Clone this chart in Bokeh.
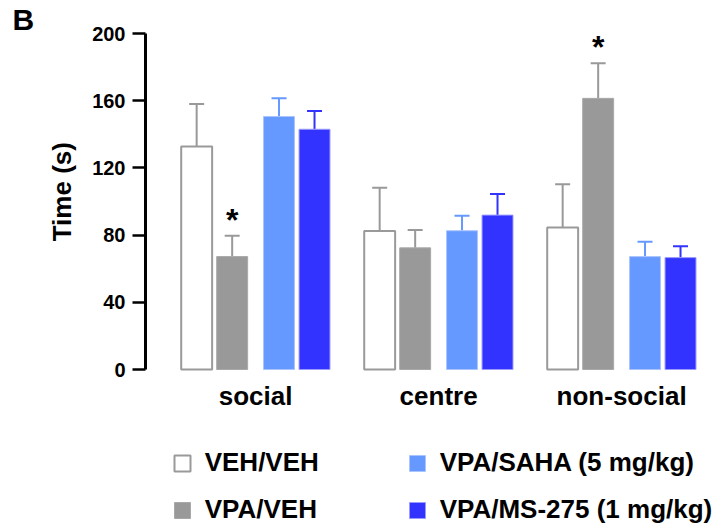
from bokeh.plotting import figure
from bokeh.models import (Range1d, FixedTicker, Legend, LegendItem, Whisker,
                          TeeHead, ColumnDataSource)
from bokeh.embed import file_html
from bokeh.resources import INLINE
from bokeh.core.properties import value

# ---------------- data ----------------
groups = ["social", "centre", "non-social"]
series = ["VEH/VEH", "VPA/VEH", "VPA/SAHA (5 mg/kg)", "VPA/MS-275 (1 mg/kg)"]

veh_veh = [132.7, 82.4, 84.5]
veh_veh_sem = [25.3, 25.8, 25.7]
vpa_veh = [67.2, 72.4, 161.4]
vpa_veh_sem = [12.4, 10.6, 20.9]
vpa_saha = [150.6, 82.6, 67.2]
vpa_saha_sem = [10.8, 8.9, 8.8]
vpa_ms275 = [143.0, 91.9, 66.6]
vpa_ms275_sem = [10.8, 12.6, 6.8]

vpa_veh_sig = ["*", "", "*"]
y_ticks = [0, 40, 80, 120, 160, 200]

# ---------------- style ----------------
FONT = "Liberation Sans"
fills = ["#ffffff", "#999999", "#6699ff", "#3333ff"]
edges = ["#9a9a9a", "#a8a8a8", "#a9c4ff", "#9a9aff"]
edge_w = [2, 1, 1, 1]
err_colors = ["#999999", "#999999", "#6699ff", "#3333ff"]
offsets = [-0.322, -0.128, 0.128, 0.322]
bar_w = 0.169
cat_label_y = -16.0   # baseline of category labels (data units, below the axis)
# the y-axis label is centred on the whole (tall) frame; leading no-break
# spaces lift the visible words to the middle of the 0-200 scale
label_pad = "\u00a0" * 25

p = figure(width=724, height=530, x_range=Range1d(-0.6016, 2.5186),
           y_range=Range1d(-95.83, 200), output_backend="svg",
           toolbar_location=None, x_axis_location=None,
           min_border_left=145, min_border_right=8,
           min_border_top=33, min_border_bottom=0)
p.outline_line_color = None
p.grid.visible = False
p.background_fill_color = "white"
p.border_fill_color = "white"

# panel letter as title
p.title.text = "B"
p.title.align = "left"
p.title.offset = -133
p.title.standoff = -4
p.title.text_font = FONT
p.title.text_font_size = "30px"
p.title.text_font_style = "bold"
p.title.text_color = "black"

means = [veh_veh, vpa_veh, vpa_saha, vpa_ms275]
sems = [veh_veh_sem, vpa_veh_sem, vpa_saha_sem, vpa_ms275_sem]

renderers = []
vpa_x = None
vpa_top = None
for k in range(4):
    xs = [i + offsets[k] for i in range(len(groups))]
    tops = [m + s for m, s in zip(means[k], sems[k])]
    src = ColumnDataSource(dict(x=xs, top=means[k], upper=tops))
    r = p.vbar(x="x", top="top", bottom=0, width=bar_w, source=src,
               fill_color=fills[k], line_color=edges[k], line_width=edge_w[k])
    renderers.append(r)
    w = Whisker(source=src, base="x", lower="top", upper="upper",
                dimension="height", line_color=err_colors[k], line_width=2,
                upper_head=TeeHead(size=15, line_color=err_colors[k], line_width=2),
                lower_head=None)
    p.add_layout(w)
    if k == 1:
        vpa_x, vpa_top = xs, tops

# significance asterisks
p.text(x=vpa_x, y=vpa_top, text=vpa_veh_sig, text_align="center",
       text_baseline="alphabetic", y_offset=-16, text_font=value(FONT),
       text_font_size="32px", text_font_style="bold", text_color="black")

# category labels
p.text(x=list(range(len(groups))), y=[cat_label_y] * len(groups), text=groups,
       text_align="center", text_baseline="alphabetic", text_font=value(FONT),
       text_font_size="26px", text_font_style="bold", text_color="black")

# ---------------- y axis ----------------
ya = p.yaxis[0]
ya.bounds = (0, 200)
ya.ticker = FixedTicker(ticks=y_ticks)
ya.axis_line_width = 3
ya.axis_line_color = "black"
ya.major_tick_line_width = 2.5
ya.major_tick_out = 13
ya.major_tick_in = 0
ya.minor_tick_line_color = None
ya.major_label_standoff = 7
ya.major_label_text_font = FONT
ya.major_label_text_font_size = "20px"
ya.major_label_text_font_style = "bold"
ya.major_label_text_color = "black"
ya.axis_label = label_pad + "Time (s)"
ya.axis_label_text_font = FONT
ya.axis_label_text_font_size = "26px"
ya.axis_label_text_font_style = "bold"
ya.axis_label_text_color = "black"
ya.axis_label_standoff = 12

# ---------------- legend ----------------
items = [LegendItem(label=series[k], renderers=[renderers[k]]) for k in range(4)]
legend = Legend(items=items, location=(26.7, 5), orientation="vertical",
                nrows=2, glyph_width=20, glyph_height=20, label_standoff=13,
                label_width=186, spacing=16, padding=0, margin=0,
                border_line_color=None, background_fill_alpha=0,
                label_text_font=FONT, label_text_font_size="26px",
                label_text_font_style="bold", label_text_color="black")
p.add_layout(legend, "center")

open("out.html", "w").write(file_html(p, INLINE))
